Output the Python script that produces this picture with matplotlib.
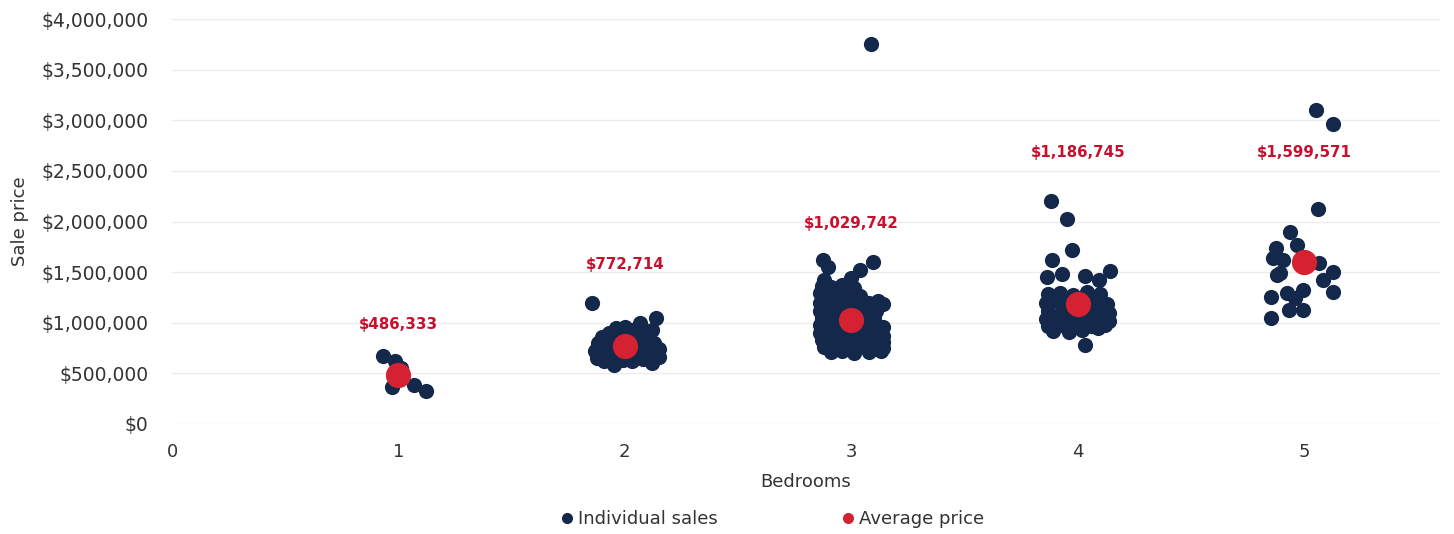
import matplotlib.pyplot as plt
from matplotlib.lines import Line2D
from matplotlib.ticker import FuncFormatter, MultipleLocator

plt.rcParams['font.family'] = ['DejaVu Sans']

# Individual sales (x = bedrooms with jitter, price in $)
bed1_x = [0.93, 0.985, 0.97, 1.07, 1.12, 1.01]
bed1_price = [670000, 620000, 365000, 385000, 326000, 550000]

bed2_x = [1.855, 2.137, 2.066, 2.00, 1.96, 1.93, 1.90, 1.88, 1.87, 1.875, 1.91, 1.95,
          1.99, 2.03, 2.08, 2.12, 2.15, 2.15, 2.13, 2.10, 2.06, 2.03, 1.98, 1.94,
          1.92, 1.96, 2.04, 2.08, 2.11, 2.05, 1.97, 2.12, 1.90, 2.01]
bed2_price = [1200000, 1050000, 1000000, 960000, 950000, 900000, 860000, 800000, 720000,
              650000, 620000, 580000, 630000, 620000, 640000, 600000, 660000, 740000,
              800000, 860000, 900000, 930000, 880000, 820000, 740000, 700000, 700000,
              760000, 700000, 820000, 760000, 930000, 680000, 840000]

bed3_x = [3.086, 2.874, 2.896, 3.095, 3.038, 3.00, 2.88,
          2.87, 2.91, 2.96, 3.01,
          2.86, 2.90, 2.95, 3.00, 3.04,
          2.86, 2.90, 2.94, 2.99, 3.03, 3.08, 3.12, 3.14,
          2.86, 2.90, 2.94, 2.98, 3.03, 3.07, 3.11,
          2.87, 2.91, 2.96, 3.00, 3.05, 3.10,
          2.86, 2.89, 2.93, 2.97, 3.02, 3.07, 3.11, 3.14,
          2.86, 2.90, 2.94, 2.99, 3.04, 3.09, 3.13, 3.14,
          2.87, 2.91, 2.95, 3.00, 3.05, 3.10, 3.14,
          2.88, 2.92, 2.97, 3.02, 3.07, 3.11, 3.14,
          2.91, 2.96, 3.01, 3.08, 3.13]
bed3_price = [3750000, 1620000, 1550000, 1600000, 1520000, 1440000, 1420000,
              1360000, 1350000, 1370000, 1340000,
              1290000, 1280000, 1270000, 1290000, 1260000,
              1200000, 1210000, 1190000, 1200000, 1210000, 1200000, 1210000, 1190000,
              1120000, 1130000, 1110000, 1120000, 1130000, 1110000, 1120000,
              1050000, 1040000, 1060000, 1050000, 1040000, 1050000,
              980000, 970000, 990000, 980000, 970000, 990000, 980000, 960000,
              900000, 910000, 890000, 900000, 910000, 890000, 900000, 870000,
              830000, 820000, 840000, 830000, 820000, 830000, 810000,
              760000, 750000, 770000, 760000, 750000, 760000, 750000,
              710000, 720000, 700000, 710000, 720000]

bed4_x = [3.881, 3.951, 3.974, 3.885, 4.141, 4.093, 4.031, 3.863, 3.929, 4.031,
          3.87, 3.92, 3.98, 4.04, 4.10,
          3.86, 3.91, 3.96, 4.02, 4.08, 4.13,
          3.87, 3.93, 3.99, 4.05, 4.11, 4.14,
          3.86, 3.91, 3.97, 4.03, 4.09, 4.14,
          3.87, 3.93, 3.99, 4.06, 4.12,
          3.89, 3.96, 4.02, 4.09]
bed4_price = [2200000, 2020000, 1720000, 1620000, 1510000, 1420000, 1460000, 1450000, 1480000, 780000,
              1280000, 1290000, 1270000, 1300000, 1280000,
              1200000, 1210000, 1190000, 1220000, 1200000, 1190000,
              1120000, 1110000, 1130000, 1120000, 1110000, 1100000,
              1040000, 1050000, 1030000, 1040000, 1050000, 1020000,
              970000, 980000, 960000, 970000, 980000,
              920000, 910000, 930000, 950000]

bed5_x = [5.051, 5.126, 5.060, 4.936, 4.967, 4.874, 4.861, 4.905, 5.064, 4.892, 4.879,
          5.126, 5.082, 5.126, 4.852, 4.923, 4.993, 4.958, 4.932, 4.993, 4.852]
bed5_price = [3100000, 2960000, 2120000, 1900000, 1770000, 1740000, 1640000, 1620000, 1590000,
              1490000, 1470000, 1500000, 1420000, 1300000, 1250000, 1290000, 1320000,
              1240000, 1130000, 1130000, 1050000]

# Average price per bedroom count
bedrooms = [1, 2, 3, 4, 5]
avg_price = [486333, 772714, 1029742, 1186745, 1599571]
avg_labels = ['$486,333', '$772,714', '$1,029,742', '$1,186,745', '$1,599,571']
label_y = [980000, 1580000, 1985000, 2680000, 2680000]

navy = '#13284b'
red = '#d42232'
label_red = '#c8102e'
text_col = '#333333'

fig = plt.figure(figsize=(14.54, 5.34), dpi=100)
ax = fig.add_axes([172 / 1454, 1 - 424 / 534, (1440 - 172) / 1454, (424 - 19) / 534])

sales_x = bed1_x + bed2_x + bed3_x + bed4_x + bed5_x
sales_price = bed1_price + bed2_price + bed3_price + bed4_price + bed5_price
ax.scatter(sales_x, sales_price, s=120, color=navy, linewidths=0, zorder=3)
ax.scatter(bedrooms, avg_price, s=330, color=red, linewidths=0, zorder=4)

for b, ly, txt in zip(bedrooms, label_y, avg_labels):
    ax.text(b, ly, txt, ha='center', va='center', color=label_red,
            fontsize=10.8, fontweight='bold')

ax.set_xlim(0, 5.6)
ax.set_ylim(0, 4000000)
ax.yaxis.set_major_locator(MultipleLocator(500000))
ax.yaxis.set_major_formatter(FuncFormatter(lambda v, p: '${:,.0f}'.format(v)))
ax.set_xticks([0, 1, 2, 3, 4, 5])
ax.tick_params(axis='y', length=0, pad=17, labelsize=13.5, labelcolor=text_col)
ax.tick_params(axis='x', length=0, pad=14, labelsize=13, labelcolor=text_col)
ax.grid(axis='y', color='#ececec', linewidth=1)
ax.set_axisbelow(True)
for s in ax.spines.values():
    s.set_visible(False)

ax.set_xlabel('Bedrooms', fontsize=13, color=text_col, labelpad=8)
ax.set_ylabel('Sale price', fontsize=13, color=text_col, labelpad=9)

handles = [Line2D([], [], marker='o', linestyle='', markersize=8, color=navy,
                  markeredgewidth=0, label='Individual sales'),
           Line2D([], [], marker='o', linestyle='', markersize=8, color=red,
                  markeredgewidth=0, label='Average price')]
leg = fig.legend(handles=handles, loc='center',
                 bbox_to_anchor=(770 / 1454, 1 - 519 / 534), ncol=2, frameon=False,
                 fontsize=13, handletextpad=0.0, handlelength=1.2, columnspacing=6.6)
for t in leg.get_texts():
    t.set_color(text_col)

fig.savefig('out.png', dpi=100)
